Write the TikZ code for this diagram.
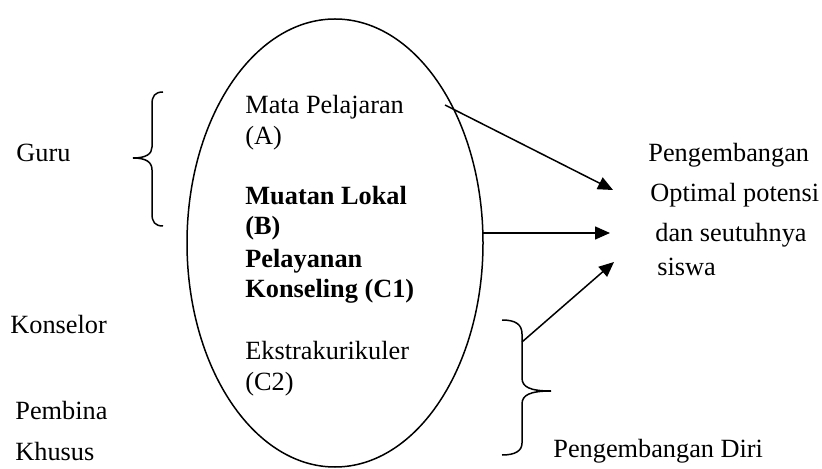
\documentclass[tikz,border=0pt]{standalone}
\usepackage{fontspec}
\setmainfont{Liberation Serif}
\usetikzlibrary{arrows.meta,shapes.geometric}
\begin{document}
\begin{tikzpicture}[x=0.5pt,y=-0.5pt,
  txt/.style={inner sep=0pt,anchor=base west,font=\fontsize{13.15pt}{15pt}\selectfont},
  btxt/.style={inner sep=0pt,anchor=base west,font=\fontsize{13.15pt}{15pt}\selectfont\bfseries},
  stroke/.style={line width=0.75pt,black},
  arr/.style={stroke,-{Triangle[length=7.5pt,width=6.5pt]}},
  bracepath/.style={line width=0.75pt,black}]
\useasboundingbox (0,0) rectangle (822,469);
% ellipse
\node[ellipse,draw,stroke,inner sep=0pt,minimum width=148pt,minimum height=224pt] (ell) at (335,243) {};
% texts inside
\node[txt]  (mp)  at (245,114) {Mata Pelajaran};
\node[txt]  (a)   at (245,145) {(A)};
\node[btxt] (ml)  at (245,205) {Muatan Lokal};
\node[btxt] (b)   at (245,235) {(B)};
\node[btxt] (pl)  at (245,268) {Pelayanan};
\node[btxt] (kc)  at (245,298) {Konseling (C1)};
\node[txt]  (ek)  at (245,359) {Ekstrakurikuler};
\node[txt]  (c2)  at (245,390) {(C2)};
% left labels
\node[txt] (guru) at (16,162) {Guru};
\node[txt] (kons) at (10,334) {Konselor};
\node[txt] (pemb) at (15,419) {Pembina};
\node[txt] (khus) at (15,460) {Khusus};
% right labels
\node[txt] (r1) at (648,162) {Pengembangan};
\node[txt] (r2) at (650,202) {Optimal potensi};
\node[txt] (r3) at (655,242) {dan seutuhnya};
\node[txt] (r4) at (657,276) {siswa};
\node[txt] (pd) at (553,457) {Pengembangan Diri};
% braces
\draw[bracepath] (163,92) .. controls (155,92) and (152,96) .. (152,104) -- (152,147)
  .. controls (152,154) and (146,158) .. (133,158)
  .. controls (146,158) and (152,162) .. (152,170) -- (152,214)
  .. controls (152,222) and (155,226) .. (163,226);
\draw[bracepath] (502,320) .. controls (515,320) and (522,324) .. (522,334) -- (522,378)
  .. controls (522,387) and (530,391) .. (551,391)
  .. controls (530,391) and (522,395) .. (522,404) -- (522,443)
  .. controls (522,451) and (515,455) .. (502,455);
% connector points
\coordinate (a1s) at (445,105);
\coordinate (a1e) at (613,190);
\coordinate (a2s) at (483,233);
\coordinate (a2e) at (610,233);
\coordinate (a3s) at (522,342);
\coordinate (a3e) at (614,262);
\draw[arr] (a1s) -- (a1e);
\draw[arr] (a2s) -- (a2e);
\draw[arr] (a3s) -- (a3e);
\end{tikzpicture}
\end{document}
